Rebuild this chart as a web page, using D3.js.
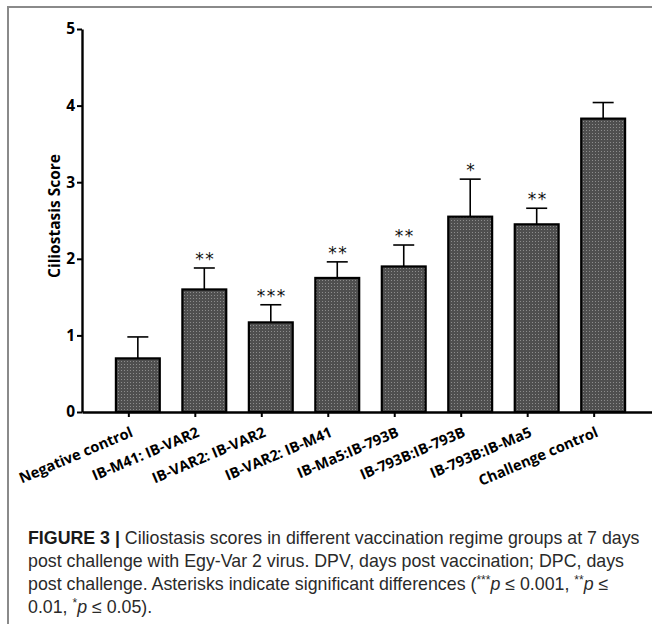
<!DOCTYPE html>
<html>
<head>
<meta charset="utf-8">
<script src="https://cdn.jsdelivr.net/npm/d3@7"></script>
<style>
  body { margin: 0; background: #fff; }
  svg { display: block; }
</style>
</head>
<body>
<div id="chart"></div>
<script>
var groups = ["Negative control", "IB-M41: IB-VAR2", "IB-VAR2: IB-VAR2", "IB-VAR2: IB-M41",
              "IB-Ma5:IB-793B", "IB-793B:IB-793B", "IB-793B:IB-Ma5", "Challenge control"];
var scores = [0.70, 1.60, 1.17, 1.75, 1.90, 2.55, 2.45, 3.83];
var errors = [0.28, 0.28, 0.23, 0.21, 0.28, 0.49, 0.21, 0.21];
var stars  = ["", "**", "***", "**", "**", "*", "**", ""];
var yTicks = [0, 1, 2, 3, 4, 5];

var width = 652, height = 624;

var svg = d3.select("#chart").append("svg")
    .attr("width", width)
    .attr("height", height);

// dotted fill used by the bars
var pat = svg.append("defs").append("pattern")
    .attr("id", "dots")
    .attr("width", 3).attr("height", 3)
    .attr("patternUnits", "userSpaceOnUse");
pat.append("rect").attr("width", 3).attr("height", 3).attr("fill", "#4f4f4f");
pat.append("rect").attr("x", 1).attr("y", 1).attr("width", 1).attr("height", 1).attr("fill", "#8c8c8c");

// frame (left + top only visible)
svg.append("path")
    .attr("d", "M8," + height + "V7H" + width)
    .attr("fill", "none")
    .attr("stroke", "#8a8a8a")
    .attr("stroke-width", 2);

var x0 = 82, yBase = 412;
var x = d3.scaleBand().domain(groups).range([x0, 659]).paddingInner(0.34).paddingOuter(0.51);
var y = d3.scaleLinear().domain([0, 5]).range([yBase, 29]);

var g = svg.append("g");

// error bars (upper only)
var eb = g.selectAll(".err").data(groups).enter().append("g").attr("class", "err");
eb.append("line")
    .attr("x1", d => x(d) + x.bandwidth() / 2)
    .attr("x2", d => x(d) + x.bandwidth() / 2)
    .attr("y1", (d, i) => y(scores[i]))
    .attr("y2", (d, i) => y(scores[i] + errors[i]))
    .attr("stroke", "#000").attr("stroke-width", 1.6);
eb.append("line")
    .attr("x1", d => x(d) + x.bandwidth() / 2 - 10.5)
    .attr("x2", d => x(d) + x.bandwidth() / 2 + 10.5)
    .attr("y1", (d, i) => y(scores[i] + errors[i]))
    .attr("y2", (d, i) => y(scores[i] + errors[i]))
    .attr("stroke", "#000").attr("stroke-width", 1.6);

// bars
g.selectAll(".bar").data(groups).enter().append("rect")
    .attr("class", "bar")
    .attr("x", d => x(d))
    .attr("y", (d, i) => y(scores[i]))
    .attr("width", x.bandwidth())
    .attr("height", (d, i) => yBase - y(scores[i]))
    .attr("fill", "url(#dots)")
    .attr("stroke", "#000")
    .attr("stroke-width", 2.2);

// significance stars
g.selectAll(".star").data(groups).enter().append("text")
    .attr("class", "star")
    .attr("x", d => x(d) + x.bandwidth() / 2 + 1)
    .attr("y", (d, i) => y(scores[i] + errors[i]) - 3)
    .attr("text-anchor", "middle")
    .attr("font-family", "'DejaVu Sans', sans-serif")
    .attr("font-size", 17)
    .attr("letter-spacing", 1.5)
    .attr("fill", "#111")
    .text((d, i) => stars[i]);

// x axis
var xAxis = d3.axisBottom(x).tickSize(5).tickSizeOuter(0).tickFormat("");
var gx = svg.append("g")
    .attr("transform", "translate(0," + yBase + ")")
    .call(xAxis);
gx.select(".domain").attr("stroke-width", 2.4);
gx.selectAll(".tick")
    .attr("transform", d => "translate(" + (x(d) + x.bandwidth() / 2 - 9) + ",0)");
gx.selectAll(".tick line").attr("stroke-width", 2);
gx.selectAll(".tick").append("text")
    .attr("transform", "translate(5,24) rotate(-23)")
    .attr("text-anchor", "end")
    .attr("fill", "#000")
    .attr("font-family", "'Open Sans', sans-serif")
    .attr("font-weight", "bold")
    .attr("font-size", 14.6)
    .text(d => d);

// y axis
var yAxis = d3.axisLeft(y).tickValues(yTicks).tickFormat(d3.format("d"))
    .tickSize(5).tickSizeOuter(0).tickPadding(2);
var gy = svg.append("g")
    .attr("transform", "translate(" + x0 + ",0)")
    .call(yAxis);
gy.select(".domain").attr("stroke-width", 2.4);
gy.selectAll(".tick line").attr("stroke-width", 2);
gy.selectAll(".tick text")
    .attr("fill", "#000")
    .attr("font-family", "'Open Sans', sans-serif")
    .attr("font-weight", "bold")
    .attr("font-size", 15.5);

svg.append("text")
    .attr("transform", "translate(60,216) rotate(-90)")
    .attr("text-anchor", "middle")
    .attr("font-family", "'Open Sans', sans-serif")
    .attr("font-weight", "bold")
    .attr("font-size", 15.5)
    .text("Ciliostasis Score");

// caption
var cap = svg.append("g")
    .attr("font-family", "'Liberation Sans Narrow', 'Liberation Sans', Arial, sans-serif")
    .attr("font-size", 17.8)
    .attr("fill", "#2a2a2a");
var lines = [
  [["FIGURE 3 |", "b"], [" Ciliostasis scores in different vaccination regime groups at 7 days"]],
  [["post challenge with Egy-Var 2 virus. DPV, days post vaccination; DPC, days"]],
  [["post challenge. Asterisks indicate significant differences ("], ["***", "s"], ["p", "i"], [" ≤ 0.001, "], ["**", "s"], ["p", "i"], [" ≤"]],
  [["0.01, "], ["*", "s"], ["p", "i"], [" ≤ 0.05)."]]
];
lines.forEach(function (parts, li) {
  var t = cap.append("text").attr("x", 28).attr("y", 544 + li * 23);
  var up = false;
  parts.forEach(function (p) {
    var s = t.append("tspan").text(p[0]);
    if (p[1] === "b") s.attr("font-weight", "bold").attr("fill", "#1a1a1a");
    if (p[1] === "i") s.attr("font-style", "italic");
    if (p[1] === "s") { s.attr("font-size", 12).attr("dy", -6); up = true; }
    else if (up) { s.attr("dy", 6); up = false; }
  });
});
</script>
</body>
</html>
